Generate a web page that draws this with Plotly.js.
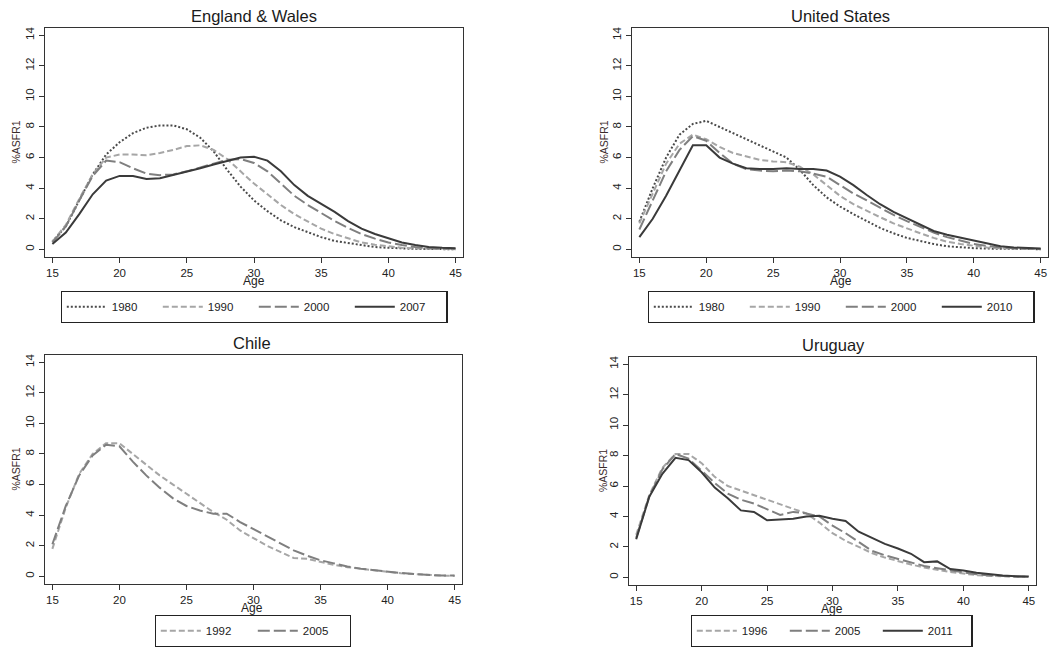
<!DOCTYPE html>
<html>
<head>
<meta charset="utf-8">
<script src="https://cdn.plot.ly/plotly-3.0.1.min.js"></script>
<style>
html,body{margin:0;padding:0;background:#fff;}
#chart{width:1049px;height:648px;}
</style>
</head>
<body>
<div id="chart"></div>
<script>
// ---------- data ----------
const ages = [15,16,17,18,19,20,21,22,23,24,25,26,27,28,29,30,31,32,33,34,35,36,37,38,39,40,41,42,43,44,45];

const panelTitles = ["England & Wales", "United States", "Chile", "Uruguay"];
const xTitle = "Age";
const yTitle = "%ASFR1";
const xTickVals = [15,20,25,30,35,40,45];
const yTickVals = [0,2,4,6,8,10,12,14];

// England & Wales
const ew1980 = [0.5,1.5,3.2,4.9,6.2,7.0,7.6,7.95,8.1,8.1,7.85,7.3,6.4,5.2,4.1,3.2,2.5,1.9,1.45,1.1,0.8,0.55,0.4,0.25,0.15,0.1,0.05,0.03,0.02,0.01,0.01];
const ew1990 = [0.5,1.6,3.3,4.9,6.0,6.2,6.2,6.15,6.3,6.5,6.75,6.8,6.5,5.9,5.1,4.3,3.6,2.9,2.3,1.8,1.35,1.0,0.7,0.45,0.3,0.2,0.1,0.06,0.03,0.02,0.01];
const ew2000 = [0.45,1.5,3.2,4.8,5.8,5.7,5.3,4.95,4.85,4.9,5.1,5.35,5.6,5.85,5.9,5.65,5.1,4.3,3.5,2.9,2.35,1.85,1.4,1.0,0.7,0.45,0.28,0.15,0.08,0.05,0.03];
const ew2007 = [0.35,1.1,2.3,3.6,4.5,4.8,4.8,4.6,4.65,4.85,5.1,5.3,5.55,5.8,6.0,6.05,5.8,5.1,4.2,3.5,3.0,2.45,1.85,1.35,1.0,0.7,0.45,0.28,0.15,0.1,0.08];

// United States
const us1980 = [1.8,4.0,6.0,7.5,8.2,8.4,8.0,7.6,7.2,6.8,6.4,6.0,5.2,4.2,3.4,2.8,2.3,1.85,1.4,1.05,0.75,0.55,0.35,0.2,0.12,0.08,0.05,0.03,0.02,0.01,0.01];
const us1990 = [1.7,3.7,5.6,6.9,7.5,7.2,6.7,6.3,6.05,5.85,5.75,5.7,5.4,4.9,4.2,3.5,2.95,2.5,2.1,1.7,1.35,1.05,0.75,0.5,0.35,0.22,0.12,0.07,0.04,0.02,0.01];
const us2000 = [1.3,3.2,5.1,6.5,7.4,7.1,6.3,5.6,5.25,5.15,5.1,5.15,5.1,4.95,4.75,4.2,3.65,3.2,2.7,2.25,1.85,1.45,1.1,0.8,0.55,0.35,0.22,0.12,0.07,0.04,0.02];
const us2010 = [0.8,2.0,3.5,5.2,6.8,6.8,6.0,5.6,5.3,5.25,5.25,5.3,5.25,5.25,5.15,4.75,4.2,3.55,2.95,2.45,2.05,1.6,1.2,0.95,0.75,0.55,0.35,0.2,0.12,0.08,0.05];

// Chile
const cl1992 = [1.8,4.5,6.7,8.0,8.7,8.7,8.0,7.3,6.6,6.0,5.4,4.8,4.2,3.7,3.0,2.5,2.0,1.6,1.2,1.15,0.95,0.75,0.6,0.5,0.38,0.28,0.2,0.15,0.08,0.05,0.03];
const cl2005 = [2.1,4.6,6.6,7.9,8.6,8.5,7.5,6.6,5.8,5.1,4.6,4.3,4.1,4.1,3.55,3.1,2.6,2.15,1.7,1.35,1.05,0.85,0.65,0.5,0.4,0.3,0.22,0.15,0.08,0.05,0.05];

// Uruguay
const uy1996 = [2.8,5.4,7.2,8.1,8.1,7.5,6.6,6.0,5.7,5.4,5.1,4.75,4.5,4.2,3.6,2.9,2.4,2.0,1.6,1.3,1.05,0.85,0.65,0.5,0.35,0.25,0.15,0.1,0.06,0.04,0.02];
const uy2005 = [2.6,5.3,7.1,8.1,7.8,7.0,6.2,5.5,5.1,4.85,4.5,4.1,4.3,4.2,4.0,3.4,2.9,2.3,1.75,1.45,1.2,1.0,0.75,0.6,0.45,0.3,0.2,0.13,0.08,0.05,0.03];
const uy2011 = [2.5,5.3,6.8,7.85,7.7,6.9,5.9,5.2,4.4,4.3,3.75,3.8,3.85,4.0,4.05,3.85,3.7,3.0,2.6,2.2,1.9,1.55,1.0,1.05,0.55,0.45,0.3,0.2,0.12,0.07,0.05];

// ---------- styles ----------
const FONT = '"Liberation Sans", Arial, sans-serif';
const S = {
  dot:   {color:'#4a4a4a', width:2, dash:'2px,2px'},
  short: {color:'#a6a6a6', width:2, dash:'6px,3px'},
  long:  {color:'#7f7f7f', width:2, dash:'12px,4px'},
  solid: {color:'#3a3a3a', width:2, dash:'solid'}
};

function tr(name, y, style, ax, leg){
  return {x: ages, y: y, name: name, mode:'lines', type:'scatter',
          line: Object.assign({}, style), xaxis: 'x'+ax, yaxis:'y'+ax,
          legend: leg, showlegend:true, hoverinfo:'skip'};
}

const traces = [
  tr('1980', ew1980, S.dot, '', 'legend'),
  tr('1990', ew1990, S.short, '', 'legend'),
  tr('2000', ew2000, S.long, '', 'legend'),
  tr('2007', ew2007, S.solid, '', 'legend'),
  tr('1980', us1980, S.dot, '2', 'legend2'),
  tr('1990', us1990, S.short, '2', 'legend2'),
  tr('2000', us2000, S.long, '2', 'legend2'),
  tr('2010', us2010, S.solid, '2', 'legend2'),
  tr('1992', cl1992, S.short, '3', 'legend3'),
  tr('2005', cl2005, S.long, '3', 'legend3'),
  tr('1996', uy1996, S.short, '4', 'legend4'),
  tr('2005', uy2005, S.long, '4', 'legend4'),
  tr('2011', uy2011, S.solid, '4', 'legend4')
];

const W = 1049, H = 648;
const px = v => v / W;
const py = v => 1 - v / H;

// frame pixel boxes [left, right, top, bottom]
const frames = [
  [45, 463, 28, 257],
  [632, 1048, 28, 257],
  [45, 462, 355, 584],
  [629, 1036, 357, 585]
];

function xax(f, anchor){
  return {domain:[px(f[0]), px(f[1])], range:[14.45, 45.55], anchor: anchor,
    tickvals: xTickVals, ticks:'outside', ticklen:5, tickwidth:1, tickcolor:'#333',
    showline:true, linecolor:'#333', linewidth:1.3, mirror:true, showgrid:false, zeroline:false,
    tickfont:{family:FONT, size:11.5, color:'#222'}, fixedrange:true, automargin:false};
}
function yax(f, anchor){
  return {domain:[py(f[3]), py(f[2])], range:[-0.5, 14.47], anchor: anchor,
    tickvals: yTickVals, ticks:'outside', ticklen:5, tickwidth:1, tickcolor:'#333', tickangle:-90,
    showline:true, linecolor:'#333', linewidth:1.3, mirror:true, showgrid:false, zeroline:false,
    tickfont:{family:FONT, size:11.5, color:'#222'}, fixedrange:true, automargin:false};
}

function leg(cx, top, ew){
  return {orientation:'h', x: px(cx), xanchor:'center', y: py(top), yanchor:'top',
    bordercolor:'#222', borderwidth:1.3, bgcolor:'#fff',
    font:{family:FONT, size:11.5, color:'#222'}, entrywidth: ew, entrywidthmode:'pixels',
    itemwidth:40, tracegroupgap:0, traceorder:'normal'};
}

const annotations = [];
const titleY = [16, 16, 343, 345];
const titleX = [254, 840, 252, 833];
const ageY = [281, 281, 607.5, 609];
const ageX = [254, 841, 252, 832];
const ytX = [15, 603, 15, 603];
for (let i=0;i<4;i++){
  annotations.push({text: panelTitles[i], xref:'paper', yref:'paper', x: px(titleX[i]), y: py(titleY[i]),
    xanchor:'center', yanchor:'middle', showarrow:false, font:{family:FONT, size:16.5, color:'#1a1a1a'}});
  annotations.push({text: xTitle, xref:'paper', yref:'paper', x: px(ageX[i]), y: py(ageY[i]),
    xanchor:'center', yanchor:'middle', showarrow:false, font:{family:FONT, size:12, color:'#222'}});
  const f = frames[i];
  annotations.push({text: yTitle, xref:'paper', yref:'paper', x: px(ytX[i]), y: py((f[2]+f[3])/2),
    xanchor:'center', yanchor:'middle', textangle:-90, showarrow:false, font:{family:FONT, size:10.5, color:'#3a2a2a'}});
}

const layout = {
  width: W, height: H, margin:{l:0, r:0, t:0, b:0, autoexpand:false},
  paper_bgcolor:'#fff', plot_bgcolor:'#fff',
  font:{family:FONT},
  xaxis: xax(frames[0], 'y'), yaxis: yax(frames[0], 'x'),
  xaxis2: xax(frames[1], 'y2'), yaxis2: yax(frames[1], 'x2'),
  xaxis3: xax(frames[2], 'y3'), yaxis3: yax(frames[2], 'x3'),
  xaxis4: xax(frames[3], 'y4'), yaxis4: yax(frames[3], 'x4'),
  legend: leg(254, 291, 41),
  legend2: leg(841, 291, 41),
  legend3: leg(253, 615, 42),
  legend4: leg(831.5, 615, 38),
  annotations: annotations,
  showlegend: true
};

Plotly.newPlot('chart', traces, layout, {staticPlot:true, displayModeBar:false});
</script>
</body>
</html>
